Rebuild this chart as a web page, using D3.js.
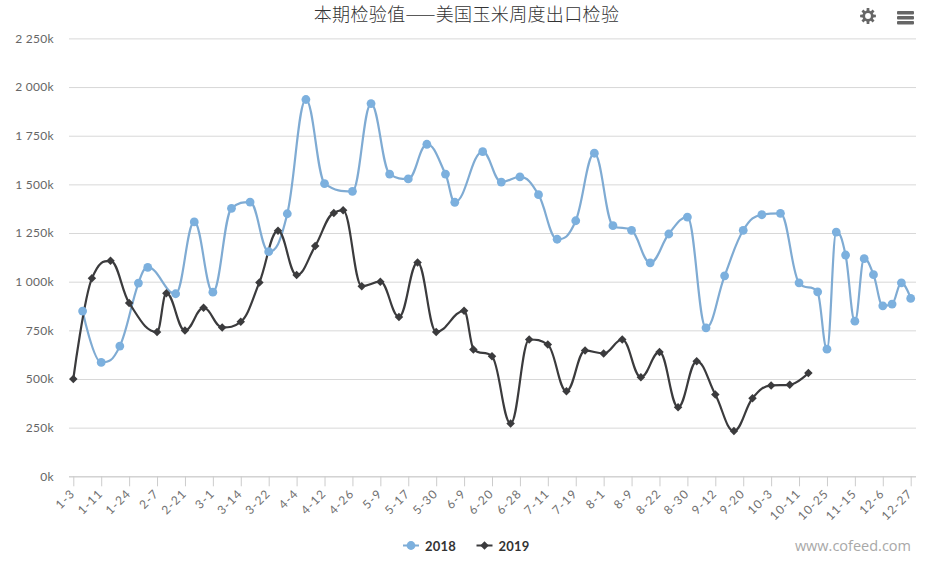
<!DOCTYPE html>
<html><head><meta charset="utf-8">
<script src="https://cdn.jsdelivr.net/npm/d3@7"></script>
<style>
html,body{margin:0;padding:0;background:#fff}
svg{display:block}
text{font-family:Lato,"Noto Sans CJK SC",sans-serif}
</style></head><body>
<svg id="c" width="930" height="561"></svg>
<script>
const title = "本期检验值——美国玉米周度出口检验";
const tickLabels = ["1-3","1-11","1-24","2-7","2-21","3-1","3-14","3-22","4-4","4-12","4-26","5-9","5-17","5-30","6-9","6-20","6-28","7-11","7-19","8-1","8-9","8-22","8-30","9-12","9-20","10-3","10-11","10-25","11-15","12-6","12-27"];
const yTicks = [0,250,500,750,1000,1250,1500,1750,2000,2250];
const slots2018 = [1,3,5,7,8,11,13,15,17,19,21,23,25,27,30,32,34,36,38,40,41,44,46,48,50,52,54,56,58,60,62,64,66,68,70,72,74,76,78,80,81,82,83,84,85,86,87,88,89,90];
const values2018 = [849,585,669,993,1073,938,1307,946,1377,1409,1154,1349,1936,1504,1464,1915,1553,1528,1706,1553,1408,1668,1512,1538,1447,1218,1313,1660,1288,1264,1097,1245,1332,763,1030,1264,1344,1351,994,948,653,1255,1137,797,1118,1036,876,885,994,914];
const slots2019 = [0,2,4,6,9,10,12,14,16,18,20,22,24,26,28,29,31,33,35,37,39,42,43,45,47,49,51,53,55,57,59,61,63,65,67,69,71,73,75,77,79];
const values2019 = [500,1017,1107,891,742,941,749,866,765,794,996,1262,1034,1183,1353,1367,977,1000,819,1099,742,850,652,617,271,703,677,437,646,631,703,509,639,355,591,420,233,401,467,470,531];
const seriesNames = ["2018","2019"];
const colors = {line2018:"#7fabd3",mark2018:"#7cb0de",c2019:"#3b3b3d"};

// Spline with rounded handles and flat tangents at local extremes
function SplineCurve(ctx){this._c=ctx;}
SplineCurve.prototype={
  areaStart(){},areaEnd(){},
  lineStart(){this._p=[];},
  point(x,y){this._p.push([+x,+y]);},
  lineEnd(){
    const p=this._p,s=1.5,d=2.5,L=[],R=[];
    p.forEach((q,i)=>{
      if(i===0||i===p.length-1){L.push(q);R.push(q);return;}
      const [x,y]=q,[lx,ly]=p[i-1],[nx,ny]=p[i+1];
      let lcx=(s*x+lx)/d,lcy=(s*y+ly)/d,rcx=(s*x+nx)/d,rcy=(s*y+ny)/d;
      const corr=((rcy-lcy)*(rcx-x))/(rcx-lcx)+y-rcy;
      lcy+=corr;rcy+=corr;
      if(lcy>ly&&lcy>y){lcy=Math.max(ly,y);rcy=2*y-lcy;}
      else if(lcy<ly&&lcy<y){lcy=Math.min(ly,y);rcy=2*y-lcy;}
      if(rcy>ny&&rcy>y){rcy=Math.max(ny,y);lcy=2*y-rcy;}
      else if(rcy<ny&&rcy<y){rcy=Math.min(ny,y);lcy=2*y-rcy;}
      L.push([lcx,lcy]);R.push([rcx,rcy]);
    });
    this._c.moveTo(p[0][0],p[0][1]);
    for(let i=1;i<p.length;i++)this._c.bezierCurveTo(R[i-1][0],R[i-1][1],L[i][0],L[i][1],p[i][0],p[i][1]);
  }
};
const spline=ctx=>new SplineCurve(ctx);

const svg=d3.select("#c");
const plot={left:69,right:916,top:38.4,bottom:476.3};
const x=d3.scaleLinear().domain([0,90]).range([73.3,910.7]);
const y=d3.scaleLinear().domain([0,2250]).range([plot.bottom,plot.top]);
const fmtLocale=d3.formatLocale({decimal:".",thousands:" ",grouping:[3],currency:["",""]});
const fmt=v=>fmtLocale.format(",")(v)+"k";

// title
svg.append("text").attr("x",466.5).attr("y",20.5).attr("text-anchor","middle")
  .style("font-family",'"Noto Sans CJK SC",sans-serif').style("font-weight",300)
  .style("font-size","18px").style("letter-spacing","0.35px").attr("fill","#333").text(title);

// y axis
const yAxis=svg.append("g").attr("transform",`translate(${plot.left},0)`)
  .call(d3.axisLeft(y).tickValues(yTicks).tickFormat(fmt).tickSize(-(plot.right-plot.left)).tickPadding(15));
yAxis.select(".domain").remove();
yAxis.selectAll(".tick line").attr("stroke","#d8d8d8").attr("stroke-width",1);
yAxis.selectAll(".tick text").attr("fill","#666").style("font-size","12px").style("letter-spacing","0.3px");

// x axis
const xAxis=svg.append("g").attr("transform",`translate(0,${plot.bottom})`)
  .call(d3.axisBottom(x).tickValues(tickLabels.map((_,i)=>i*3)).tickFormat(d=>tickLabels[d/3]).tickSize(10));
xAxis.select(".domain").attr("d",`M${plot.left},0.5H${plot.right}`).attr("stroke","#ccc");
xAxis.selectAll(".tick line").attr("stroke","#ccc");
xAxis.selectAll(".tick text").attr("fill","#707070").style("font-size","12px").style("letter-spacing","1.1px")
  .attr("text-anchor","end").attr("dy",null).attr("y",null)
  .attr("transform","translate(2,18) rotate(-45)");

const line=d3.line().x(d=>x(d[0])).y(d=>y(d[1])).curve(spline);
const data2018=d3.zip(slots2018,values2018), data2019=d3.zip(slots2019,values2019);
const diamond=d3.symbol().type(d3.symbolDiamond2).size(46)();

svg.append("path").datum(data2018).attr("d",line).attr("fill","none").attr("stroke",colors.line2018).attr("stroke-width",2.2);
svg.append("path").datum(data2019).attr("d",line).attr("fill","none").attr("stroke",colors.c2019).attr("stroke-width",2.2);
svg.append("g").selectAll("circle").data(data2018).join("circle")
  .attr("cx",d=>x(d[0])).attr("cy",d=>y(d[1])).attr("r",4.4).attr("fill",colors.mark2018);
svg.append("g").selectAll("path").data(data2019).join("path")
  .attr("d",diamond).attr("transform",d=>`translate(${x(d[0])},${y(d[1])})`).attr("fill",colors.c2019);

// legend
const leg=svg.append("g");
leg.append("line").attr("x1",403).attr("x2",419).attr("y1",545.5).attr("y2",545.5).attr("stroke",colors.line2018).attr("stroke-width",2);
leg.append("circle").attr("cx",411).attr("cy",545.5).attr("r",4.4).attr("fill",colors.mark2018);
leg.append("text").attr("x",425).attr("y",550.5).text(seriesNames[0]);
leg.append("line").attr("x1",476.5).attr("x2",492.5).attr("y1",545.5).attr("y2",545.5).attr("stroke",colors.c2019).attr("stroke-width",2);
leg.append("path").attr("d",diamond).attr("transform","translate(484.5,545.5)").attr("fill",colors.c2019);
leg.append("text").attr("x",498.5).attr("y",550.5).text(seriesNames[1]);
leg.selectAll("text").attr("fill","#333").style("font-size","13px").style("font-weight",700).style("letter-spacing","0.2px");

// watermark
svg.append("text").attr("x",911).attr("y",551).attr("text-anchor","end").attr("fill","#a8a8a8")
  .style("font-family",'"Open Sans",sans-serif').style("font-size","14.5px").text("www.cofeed.com");

// menu icon
const menu=svg.append("g").attr("fill","#666");
[12,17,22].forEach(t=>menu.append("rect").attr("x",897).attr("y",t-1).attr("width",17).attr("height",3.4).attr("rx",1));

// gear icon
const gc=[868,16], teeth=8, pts=[];
for(let i=0;i<teeth;i++){
  const a=i*2*Math.PI/teeth-Math.PI/2;
  [[-0.25,5.6],[-0.17,8],[0.17,8],[0.25,5.6]].forEach(([o,r])=>pts.push([r*Math.sin(a+o+Math.PI/2),-r*Math.cos(a+o+Math.PI/2)]));
}
svg.append("path").attr("transform",`translate(${gc})`).attr("fill","#666").attr("fill-rule","evenodd")
  .attr("d","M"+pts.map(p=>p.join(",")).join("L")+"Z M2.9,0A2.9,2.9 0 1 0 -2.9,0A2.9,2.9 0 1 0 2.9,0Z");
</script></body></html>
